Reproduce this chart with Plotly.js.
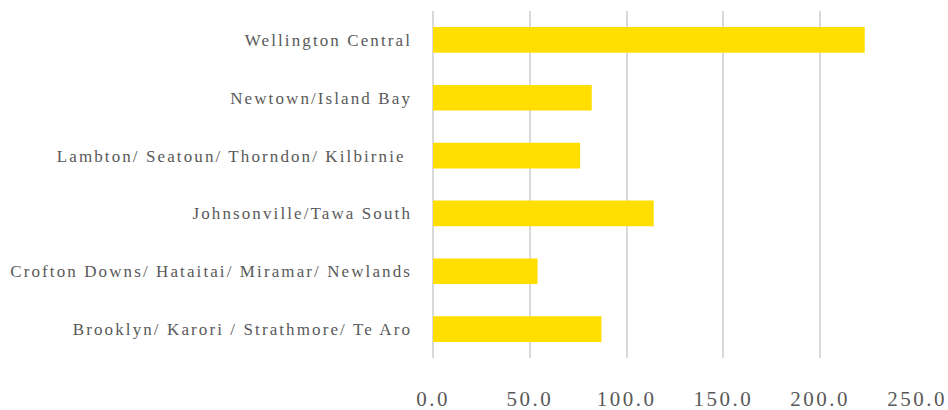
<!DOCTYPE html>
<html>
<head>
<meta charset="utf-8">
<script src="https://cdn.plot.ly/plotly-3.0.1.min.js"></script>
<style>
  html, body { margin: 0; padding: 0; background: #fff; }
  #chart { width: 948px; height: 410px; }
  .ytick text { letter-spacing: 2.1px; }
  .xtick text { letter-spacing: 2.5px; }
</style>
</head>
<body>
<div id="chart"></div>
<script>
const categories = [
  "Wellington Central",
  "Newtown/Island Bay",
  "Lambton/ Seatoun/ Thorndon/ Kilbirnie\u00a0",
  "Johnsonville/Tawa South",
  "Crofton Downs/ Hataitai/ Miramar/ Newlands",
  "Brooklyn/ Karori / Strathmore/ Te Aro"
];
const values = [223, 82, 76, 114, 54, 87];
const xTickVals = [0, 50, 100, 150, 200, 250];
const xTickText = ["0.0", "50.0", "100.0", "150.0", "200.0", "250.0"];

const FONT = "'Liberation Serif', 'DejaVu Serif', serif";

const trace = {
  type: 'bar',
  orientation: 'h',
  y: categories,
  x: values,
  marker: { color: '#FFDE00', line: { width: 0 } },
  hoverinfo: 'x+y'
};

const layout = {
  width: 948,
  height: 410,
  margin: { l: 433, r: 31, t: 11, b: 52 },
  paper_bgcolor: '#ffffff',
  plot_bgcolor: '#ffffff',
  showlegend: false,
  bargap: 0.555,
  font: { family: FONT, color: '#595959' },
  xaxis: {
    range: [0, 250],
    tickvals: xTickVals,
    ticktext: xTickText,
    showgrid: true,
    gridcolor: '#d9d9d9',
    gridwidth: 2,
    zeroline: true,
    zerolinecolor: '#d9d9d9',
    zerolinewidth: 2,
    showline: false,
    ticks: '',
    ticklabelstandoff: 26,
    tickfont: { family: FONT, size: 21, color: '#595959' },
    fixedrange: true
  },
  yaxis: {
    type: 'category',
    autorange: 'reversed',
    showgrid: false,
    zeroline: false,
    showline: false,
    ticks: '',
    ticklabelstandoff: 20,
    tickfont: { family: FONT, size: 17, color: '#595959' },
    fixedrange: true
  }
};

Plotly.newPlot('chart', [trace], layout, { displayModeBar: false, staticPlot: true });
</script>
</body>
</html>
